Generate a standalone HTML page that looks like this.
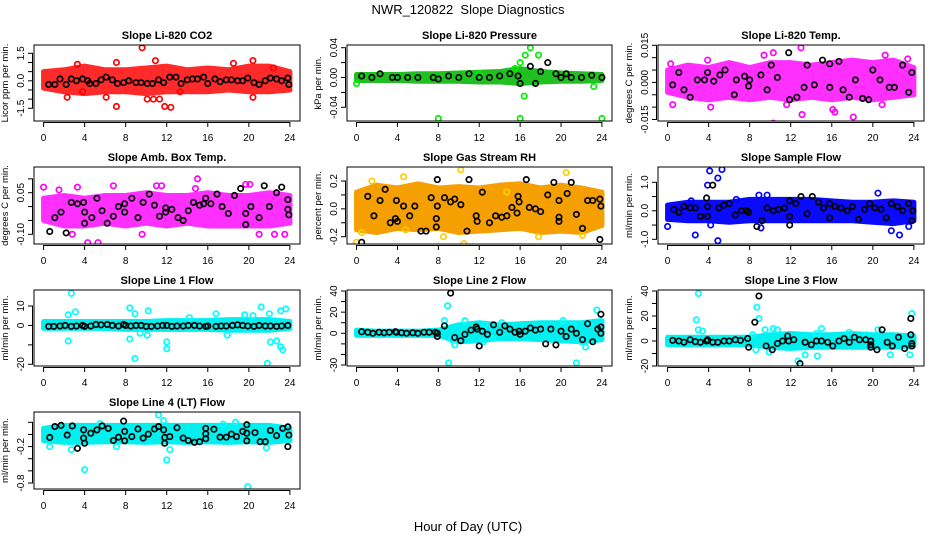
<!DOCTYPE html>
<html><head><meta charset="utf-8">
<style>
html,body{margin:0;padding:0;background:#fff;}
svg{display:block;font-family:"Liberation Sans",Arial,sans-serif;}
</style></head>
<body>
<svg id="chart" width="936" height="540" viewBox="0 0 936 540">
<text x="468" y="14" text-anchor="middle" font-size="13">NWR_120822&#160; Slope Diagnostics</text>
<text x="468" y="531" text-anchor="middle" font-size="13">Hour of Day (UTC)</text>
</svg>
<script>
const bandHours = [0,2,4,6,8,10,12,14,16,18,20,22,24];
const xTicks = [0,4,8,12,16,20,24];

const co2Hi = [0.5,0.6,0.8,0.6,0.6,0.7,0.8,0.6,0.7,0.6,0.8,0.8,0.5];
const co2Lo = [-0.4,-0.6,-0.7,-0.6,-0.6,-0.7,-0.6,-0.6,-0.6,-0.5,-0.6,-0.6,-0.5];
const co2Out = [[9.6,1.8],[7.1,-1.4],[11.8,-1.4],[12.4,-1.45],[10.1,-1.0],[10.7,-1.0],[11.3,-1.0],[2.3,-0.9],[6.1,-0.9],[20.4,-0.9],[10.9,1.1],[20.4,1.1],[7.1,1.0],[3.3,0.9],[18.5,0.95],[22.4,0.7],[3.8,-0.6],[13.3,-0.6]];
const co2Black = [[0.5,-0.2],[1.1,-0.2],[1.6,0.1],[2.2,-0.2],[2.7,0.1],[3.2,0],[3.8,0.1],[4.3,0],[4.5,-0.15],[5.1,-0.15],[5.6,0.05],[6.1,0.2],[6.7,0.05],[7.2,-0.15],[7.8,-0.1],[8.3,0],[9.0,-0.1],[9.5,-0.1],[10.1,-0.15],[10.6,-0.15],[11.2,0.05],[11.7,-0.1],[12.3,0.2],[12.9,0.2],[13.4,-0.15],[14.0,0.05],[14.5,0.1],[15.0,0.1],[15.6,0.2],[16.0,-0.15],[16.7,0.1],[17.2,-0.05],[17.8,0.05],[18.3,0.05],[18.9,0],[19.4,0],[19.9,0.15],[20.5,-0.1],[21.0,-0.2],[21.6,0],[22.1,0.15],[22.7,0.1],[23.2,0],[23.8,0.15],[23.9,-0.2]];

const presHi = [0.004,0.004,0.004,0.005,0.005,0.006,0.007,0.008,0.012,0.008,0.006,0.005,0.004];
const presLo = [-0.004,-0.004,-0.004,-0.005,-0.005,-0.005,-0.006,-0.006,-0.008,-0.006,-0.005,-0.005,-0.004];
const presOut = [[8,-0.055],[16,-0.055],[24,-0.055],[17,0.04],[16.5,0.03],[17.8,0.03],[16,0.02],[15.5,0.012],[16.4,-0.025],[23.2,-0.012],[0,-0.008],[12,0.005]];
const presBlack = [[0.5,0.002],[1.5,0],[2.3,0.005],[3.5,0],[4,0],[5,0],[6,0],[7.5,0],[8,-0.002],[9,0.002],[10,0],[11,0.005],[12,0],[13,0],[14,0.002],[15,0.005],[15.8,0.002],[16,-0.008],[17,0.015],[17.5,-0.008],[18,0.008],[18.7,0.02],[19.5,0.005],[20,0],[20.5,0.005],[21,0],[22,0],[23,0.003],[24,0]];

const tempHi = [0.005,0.007,0.006,0.008,0.006,0.008,0.008,0.007,0.008,0.009,0.008,0.009,0.006];
const tempLo = [-0.004,-0.006,-0.007,-0.006,-0.007,-0.006,-0.007,-0.006,-0.007,-0.006,-0.007,-0.006,-0.005];
const tempOut = [[13,0.014],[10.3,-0.0165],[13.1,-0.013],[18.1,-0.014],[0.5,-0.009],[4.2,-0.01],[16.1,-0.011],[21.2,0.011],[9.4,0.011],[10.3,0.012],[20.9,-0.009],[23.4,0.0095],[11.6,-0.009],[16.3,-0.012],[0.3,0.0075],[3.9,0.009]];
const tempBlack = [[0.5,-0.001],[1.1,0.004],[1.6,-0.003],[2.2,-0.006],[2.9,0.001],[3.6,0.001],[3.9,0.004],[4.5,0.0005],[5.1,0.003],[5.6,0.005],[6.5,-0.005],[6.7,0.001],[7.5,0.0025],[7.9,-0.0015],[8,0.001],[9.1,0.003],[9.7,-0.003],[10.1,0.007],[10.7,0.002],[11.8,0.012],[11.9,-0.007],[12.6,-0.006],[13.3,-0.002],[13.6,0.007],[14.3,-0.001],[15.1,0.009],[15.8,0.0075],[15.8,-0.002],[16.7,0.0085],[17.1,-0.003],[17.7,-0.006],[18.3,0.001],[19,-0.0065],[19.6,-0.007],[20,0.005],[20.7,0.001],[21.6,-0.002],[22.1,-0.002],[22.9,0.007],[23.5,-0.004],[23.8,0.004]];

const ambHi = [0.03,0.04,0.03,0.04,0.04,0.05,0.04,0.04,0.05,0.04,0.04,0.05,0.04];
const ambLo = [-0.05,-0.07,-0.07,-0.06,-0.07,-0.06,-0.07,-0.06,-0.07,-0.07,-0.07,-0.07,-0.06];
const ambOut = [[0,0.07],[3.3,0.07],[6.8,0.075],[11,0.075],[11.5,0.075],[15,0.1],[19.7,0.08],[20.1,0.08],[13.3,-0.15],[5.3,-0.13],[4.3,-0.13],[2.8,-0.1],[23.5,-0.1],[9.6,-0.1],[21,-0.1],[22.5,-0.1],[1.5,0.06],[14.8,0.065]];
const ambBlack = [[0.6,-0.09],[1.1,-0.04],[1.7,-0.02],[2.2,-0.095],[2.7,0.015],[3.3,0.01],[3.9,0.015],[4,-0.02],[4,-0.06],[4.7,-0.04],[5.2,0.03],[5.7,-0.015],[6.2,-0.06],[6.8,-0.035],[7.3,0.0],[7.9,0.01],[7.9,-0.02],[8.6,0.03],[9.2,-0.04],[9.7,0.015],[10.3,0.045],[10.8,0.005],[11.3,-0.035],[11.9,-0.005],[11.9,-0.02],[12.5,-0.01],[13.1,-0.04],[13.6,-0.05],[14.1,-0.015],[14.6,0.015],[15.2,0.005],[15.6,0.01],[15.8,0.03],[16.3,0.01],[16.9,0.045],[17.4,0.0],[18,-0.025],[18.6,0.04],[19.2,0.065],[19.7,-0.025],[19.7,-0.065],[20.2,0.0],[21,-0.04],[21.5,0.075],[22,0.0],[22.7,0.05],[23.2,0.07],[23.8,0.025],[23.8,-0.01],[23.9,-0.03]];

const rhHi = [0.12,0.17,0.15,0.18,0.15,0.16,0.15,0.17,0.18,0.15,0.17,0.15,0.12];
const rhLo = [-0.15,-0.17,-0.14,-0.15,-0.14,-0.17,-0.16,-0.15,-0.14,-0.17,-0.16,-0.17,-0.12];
const rhOut = [[0,-0.24],[0.5,-0.17],[4.6,0.23],[10.2,0.28],[10.5,-0.25],[20.5,0.26],[14.7,0.12],[17.8,-0.2],[22.1,-0.19],[4.8,-0.15],[1.5,0.2],[8.5,-0.2]];
const rhBlack = [[0.5,-0.24],[1.1,0.09],[1.7,-0.05],[2.3,0.06],[2.8,0.14],[3.3,-0.1],[3.8,-0.07],[3.9,0.06],[4,-0.09],[4.6,0.02],[5.2,-0.05],[5.7,0.02],[6.3,-0.16],[6.8,-0.16],[7.3,0.08],[7.8,-0.07],[7.9,0.02],[7.9,0.21],[7.8,-0.13],[8.6,0.08],[9.2,0.05],[9.6,0.07],[10.2,0.03],[10.8,-0.16],[11,0.21],[11.7,-0.05],[11.8,-0.09],[12.3,0.12],[13,-0.1],[13.6,-0.05],[14.2,-0.06],[14.7,-0.05],[15.2,0.01],[15.7,-0.03],[15.8,0.09],[15.9,0.05],[16.6,0.21],[16.9,0.01],[17.5,0.0],[18,-0.02],[18.7,0.1],[19.3,0.19],[19.8,-0.06],[19.8,-0.09],[19.8,0.06],[20.6,0.11],[21,0.19],[21.5,-0.04],[22.1,-0.14],[22.6,0.06],[23.1,0.06],[23.8,0.07],[23.9,0.02],[23.8,-0.22]];

const sfHi = [0.2,0.3,0.3,0.3,0.4,0.4,0.4,0.4,0.35,0.3,0.3,0.35,0.3];
const sfLo = [-0.3,-0.35,-0.35,-0.4,-0.35,-0.35,-0.35,-0.35,-0.35,-0.35,-0.4,-0.45,-0.35];
const sfOut = [[4.1,1.4],[5.3,1.45],[4.9,1.15],[3.9,0.9],[0,-0.55],[2.7,-0.85],[4.9,-1.05],[9.1,-0.6],[20.5,0.62],[21.8,-0.7],[22.6,-0.85],[23.5,-0.55],[8.9,0.55],[9.7,0.55],[6.7,0.4],[2.3,0.35],[4.2,-0.5]];
const sfBlack = [[0.6,0.05],[1.1,-0.05],[1.6,0.15],[2.2,0.1],[2.7,0.1],[3.2,-0.2],[3.8,0.45],[3.9,0.15],[3.9,-0.2],[4.4,0.9],[5.0,0.1],[5.5,0.2],[6.0,0.25],[6.6,-0.15],[7.2,0],[7.7,0],[7.9,-0.05],[8.7,-0.55],[9.2,-0.35],[9.7,0.1],[10.3,0],[10.8,0.05],[11.4,0.1],[11.9,0.35],[11.9,-0.2],[11.9,-0.5],[12.5,0.25],[13,0.5],[13.6,-0.1],[14.1,0.5],[14.7,0.3],[15.2,0.1],[15.8,0.25],[15.8,-0.25],[16.3,0.15],[16.9,0.1],[17.5,0.0],[18,0.15],[18.6,-0.3],[19.2,0.05],[19.7,0.25],[20.2,0.1],[20.8,0.05],[21.3,-0.25],[21.8,0.25],[22.4,0.15],[22.9,0],[23.5,0.25],[23.8,-0.35],[23.9,0]];

const l1Hi = [2,2,2,2,2,2,2.5,2.5,2.5,3,3,3,2];
const l1Lo = [-1.5,-1.5,-1.5,-1.5,-2,-2,-2,-2,-2,-2.5,-2.5,-2.5,-1.5];
const l1Out = [[2.7,16.5],[2.4,5.5],[3.1,7],[2.4,-8],[8.4,9],[8.9,6],[8.4,-7],[8.9,-17],[9.4,-4],[10.1,-5],[10.2,7.5],[12,-8.5],[12,-12],[14.2,4],[17.9,-5],[16.8,6],[21.2,9.5],[21.8,-19.5],[22.1,-8.5],[22.7,-8],[23.1,-11],[23.3,-12.5],[23.1,7.5],[23.6,8.5],[20.4,5],[19.6,5.5],[22,6]];
const l1Black = [[0.5,-0.5],[1,-0.5],[1.6,-0.3],[2.1,0],[2.7,-0.5],[3.2,-0.3],[3.8,0],[4,-0.5],[4.6,-0.3],[5.1,0.5],[5.6,0.3],[6.2,0.5],[6.7,0],[7.3,-0.3],[7.8,0.5],[8.0,0],[8.5,-0.3],[9,0],[9.5,0],[10,-0.5],[10.5,-0.5],[11.1,-0.3],[11.6,0],[12,0],[12.5,-0.5],[13,-0.3],[13.6,-0.3],[14.1,0],[14.7,0],[15.2,-0.3],[15.8,-0.5],[16,-0.3],[16.8,-0.5],[17.3,-0.3],[17.8,-0.3],[18.4,0],[18.9,0.3],[19.4,0],[19.9,-0.3],[20.5,-0.5],[21,0],[21.6,-0.3],[22.1,-0.3],[22.7,-0.5],[23.2,-0.3],[23.8,0]];

const l2Hi = [3,2,2,2,3,8,10,8,9,10,10,10,12];
const l2Lo = [-2,-2,-2,-2,-2,-8,-7,-5,-5,-6,-7,-8,-6];
const l2Out = [[8.9,26],[9,-28],[8.6,12],[9.6,-11],[9.3,-6],[10.6,12],[12.4,-8],[13.3,-5],[12.5,8],[14.2,10],[20.2,12],[21.5,-28],[22.8,8],[23.5,22],[23.9,8],[22.4,-13],[21.2,8],[22,-8]];
const l2Black = [[0.5,1.5],[1.1,1],[1.6,0],[2.2,1],[2.7,0.5],[3.2,1],[3.8,1.5],[3.9,1],[4.4,0.5],[4.9,0],[5.5,0.5],[6,0],[6.6,1],[7.1,1],[7.7,1],[7.9,0],[7.9,-3],[8.6,7],[9.2,38],[9.6,-4],[10.2,-7],[10.6,-1],[11.2,3],[11.7,6],[11.8,4],[12,-12],[12.3,2],[12.8,-1],[13.4,8],[14,1],[14.5,7],[15,4],[15.5,1],[15.9,2],[16,-1],[16.5,2],[17,5],[17.5,3],[18,4],[18.5,-10],[19,4],[19.5,-11],[20,2],[20.5,-3],[21,4],[21.5,0],[22.1,-6],[22.6,9],[23.1,-8],[23.6,4],[23.9,18],[23.9,6],[23.9,0]];

const l3Hi = [3,3,3,3,3,5,6,5,5,6,5,5,4];
const l3Lo = [-3,-3,-3,-3,-3,-5,-6,-5,-5,-5,-5,-5,-4];
const l3Out = [[3.0,38],[2.8,17],[3.0,9],[3.4,8],[8.7,27],[8.9,18],[8.3,5],[8.6,-7],[9.5,9],[10.3,10],[10.7,9],[9.9,-9],[12.7,-16],[13.4,-11],[14.6,-12],[14.5,6],[15,10],[23.8,22],[23.6,-11],[21.7,-11],[20.5,9],[19.4,5],[17.7,7]];
const l3Black = [[0.5,0.5],[1.1,0],[1.6,-1],[2.2,1],[2.7,-0.5],[3.2,-1],[3.8,0],[3.9,1],[4.4,-1],[4.9,-1],[5.5,0],[6,0],[6.6,1],[7.1,0.5],[7.8,2],[7.9,-5],[8.5,15],[8.9,36],[9.6,-4],[10.2,-7],[10.7,-2],[11.2,0],[11.7,4],[11.8,0],[12.3,1],[12.9,-18],[13.4,-1],[14,-3],[14.5,0],[15,0],[15.6,-1],[16.1,-4],[16.7,0],[17.2,2],[17.7,-1],[18.2,3],[18.7,1],[19.3,1],[19.8,0],[19.8,-5],[19.8,-3],[20.4,-7],[20.9,9],[21.4,-1],[21.9,-4],[22.5,3],[23.1,-6],[23.7,18],[23.7,5],[23.8,-4],[23.8,-2]];

const l4Hi = [0.1,0.15,0.15,0.15,0.15,0.15,0.15,0.15,0.15,0.15,0.15,0.15,0.1];
const l4Lo = [-0.1,-0.13,-0.13,-0.12,-0.12,-0.13,-0.12,-0.13,-0.12,-0.13,-0.12,-0.13,-0.1];
const l4Out = [[0.6,-0.2],[4,-0.58],[2.7,-0.25],[11.2,0.32],[11.7,0.23],[12,-0.42],[12.3,-0.25],[19.9,-0.86],[21.7,-0.22],[18.7,0.2],[17.5,0.17],[7.1,-0.2],[5.5,0.18]];
const l4Black = [[0.6,-0.05],[1.1,0.13],[1.7,0.15],[2.3,-0.01],[2.8,0.14],[3.3,-0.23],[3.9,0.075],[3.9,-0.06],[4,-0.145],[4.6,0.02],[5.2,0.075],[5.7,0.14],[6.3,0.1],[6.8,-0.1],[7.3,-0.045],[7.8,0.22],[7.9,0.05],[7.9,-0.105],[8.6,-0.035],[9.2,0.09],[9.7,-0.06],[10.2,0.005],[10.8,0.09],[11.2,0.13],[11.7,0.075],[11.8,-0.05],[11.8,-0.145],[12.3,-0.035],[13,0.11],[13.6,-0.06],[14.1,-0.1],[14.7,-0.13],[15.2,-0.12],[15.8,0.1],[15.8,0.01],[15.8,-0.07],[16.6,0.085],[17.2,-0.045],[17.8,-0.045],[18.3,0.005],[18.8,-0.035],[19.4,0.05],[19.8,0.16],[19.8,0.02],[19.8,-0.105],[20.6,0.03],[21.1,-0.12],[21.6,-0.12],[22.1,0.065],[22.7,-0.02],[23.3,0.1],[23.8,0.125],[23.9,-0.01],[23.8,-0.2]];

const co2Ticks=[-1.5,-1,-0.5,0,0.5,1,1.5], co2Labels=["-1.5","","","0.0","","","1.5"];
const presTicks=[-0.04,-0.02,0,0.02,0.04], presLabels=["-0.04","","0.00","","0.04"];
const tempTicks=[-0.015,-0.01,-0.005,0,0.005,0.01,0.015], tempLabels=["-0.015","","","0.000","","","0.015"];
const ambTicks=[-0.1,-0.05,0,0.05,0.1], ambLabels=["-0.10","","","0.05",""];
const rhTicks=[-0.2,-0.1,0,0.1,0.2], rhLabels=["-0.2","","0.0","","0.2"];
const sfTicks=[-1,-0.5,0,0.5,1], sfLabels=["-1.0","","0.0","","1.0"];
const l1Ticks=[-20,-10,0,10], l1Labels=["-20","","0","10"];
const l2Ticks=[-30,-20,-10,0,10,20,30,40], l2Labels=["-30","","","0","","20","","40"];
const l3Ticks=[-20,-10,0,10,20,30,40], l3Labels=["-20","","0","","20","","40"];
const l4Ticks=[-0.8,-0.6,-0.4,-0.2,0,0.2], l4Labels=["-0.8","","","-0.2","",""];

const NS="http://www.w3.org/2000/svg";
const svg=document.getElementById('chart');
function mk(tag,attrs,parent){const e=document.createElementNS(NS,tag);for(const k in attrs)e.setAttribute(k,attrs[k]);(parent||svg).appendChild(e);return e;}

const panels=[
 {name:'li820-co2',title:'Slope Li-820 CO2',yt:'Licor ppm per min.',box:[34,45,300,121],y1:[1.5,53.3],y2:[-1.5,108.3],hi:co2Hi,lo:co2Lo,out:co2Out,blk:co2Black,ticks:co2Ticks,labels:co2Labels,col:'#ff0000',fill:'#ff2a2a'},
 {name:'li820-pressure',title:'Slope Li-820 Pressure',yt:'kPa per min.',box:[347,45,612,121],y1:[0.04,47.7],y2:[-0.04,107.3],hi:presHi,lo:presLo,out:presOut,blk:presBlack,ticks:presTicks,labels:presLabels,col:'#00ee00',fill:'#20c020'},
 {name:'li820-temp',title:'Slope Li-820 Temp.',yt:'degrees C per min.',box:[658,45,924,121],y1:[0.015,45.3],y2:[-0.015,119.5],hi:tempHi,lo:tempLo,out:tempOut,blk:tempBlack,ticks:tempTicks,labels:tempLabels,col:'#ff00ff',fill:'#ff30ff'},
 {name:'amb-box-temp',title:'Slope Amb. Box Temp.',yt:'degrees C per min.',box:[34,167,300,244],y1:[0.05,192.7],y2:[-0.1,234.3],hi:ambHi,lo:ambLo,out:ambOut,blk:ambBlack,ticks:ambTicks,labels:ambLabels,col:'#ff00ff',fill:'#ff30ff'},
 {name:'gas-stream-rh',title:'Slope Gas Stream RH',yt:'percent per min.',box:[347,167,612,244],y1:[0.2,181],y2:[-0.2,236.7],hi:rhHi,lo:rhLo,out:rhOut,blk:rhBlack,ticks:rhTicks,labels:rhLabels,col:'#ffcc00',fill:'#f5a000'},
 {name:'sample-flow',title:'Slope Sample Flow',yt:'ml/min per min.',box:[658,167,924,244],y1:[1,182.3],y2:[-1,239.3],hi:sfHi,lo:sfLo,out:sfOut,blk:sfBlack,ticks:sfTicks,labels:sfLabels,col:'#0000ff',fill:'#0a0aff'},
 {name:'line1-flow',title:'Slope Line 1 Flow',yt:'ml/min per min.',box:[34,290,300,366],y1:[10,306],y2:[-20,364.3],hi:l1Hi,lo:l1Lo,out:l1Out,blk:l1Black,ticks:l1Ticks,labels:l1Labels,col:'#00ffff',fill:'#00f0f0'},
 {name:'line2-flow',title:'Slope Line 2 Flow',yt:'ml/min per min.',box:[347,290,612,366],y1:[40,291],y2:[0,333.3],hi:l2Hi,lo:l2Lo,out:l2Out,blk:l2Black,ticks:l2Ticks,labels:l2Labels,col:'#00ffff',fill:'#00f0f0'},
 {name:'line3-flow',title:'Slope Line 3 Flow',yt:'ml/min per min.',box:[658,290,924,366],y1:[40,291],y2:[-20,366],hi:l3Hi,lo:l3Lo,out:l3Out,blk:l3Black,ticks:l3Ticks,labels:l3Labels,col:'#00ffff',fill:'#00f0f0'},
 {name:'line4-lt-flow',title:'Slope Line 4 (LT) Flow',yt:'ml/min per min.',box:[34,412,300,489],y1:[0.2,422.3],y2:[-0.8,483],hi:l4Hi,lo:l4Lo,out:l4Out,blk:l4Black,ticks:l4Ticks,labels:l4Labels,col:'#00ffff',fill:'#00f0f0'}
];

panels.forEach(p=>{
 const [L,T,R,B]=p.box;
 const g=mk('g',{});
 
 
 const x0=L+(R-L)*0.036, x1=R-(R-L)*0.038;
 const X=h=>x0+(x1-x0)*h/24;
 const Y=v=>p.y1[1]+(v-p.y1[0])*(p.y2[1]-p.y1[1])/(p.y2[0]-p.y1[0]);
 const clip='clip-'+p.name;
 const cp=mk('clipPath',{id:clip},g); mk('rect',{x:L,y:T,width:R-L,height:B-T},cp);
 const data=mk('g',{'clip-path':'url(#'+clip+')'},g);
 let pts=bandHours.map((h,i)=>X(h)+','+Y(p.hi[i]));
 pts=pts.concat(bandHours.map((h,i)=>[h,i]).reverse().map(([h,i])=>X(h)+','+Y(p.lo[i])));
 const band=mk('polygon',{points:pts.join(' '),fill:p.fill,stroke:p.fill,'stroke-width':5,'stroke-linejoin':'round'},data);
 
 
 p.out.forEach(([h,v])=>{
  const c=mk('circle',{cx:X(h),cy:Y(v),r:2.7,fill:'none',stroke:p.col,'stroke-width':1.7},data);
  
  
 });
 p.blk.forEach(([h,v])=>{
  const c=mk('circle',{cx:X(h),cy:Y(v),r:2.7,fill:'none',stroke:'#000','stroke-width':1.7},data);
  
  
 });
 const box=mk('rect',{x:L,y:T,width:R-L,height:B-T,fill:'none',stroke:'#000','stroke-width':1},g);
 
 
 const t=mk('text',{x:(L+R)/2,y:T-6,'text-anchor':'middle','font-size':11,'font-weight':'bold'},g);
 t.textContent=p.title;
 
 
 const xa=mk('g',{},g);
 
 
 mk('line',{x1:X(0),x2:X(24),y1:B+1.5,y2:B+1.5,stroke:'#000'},xa);
 xTicks.forEach(h=>{
  mk('line',{x1:X(h),x2:X(h),y1:B+1,y2:B+6,stroke:'#000'},xa);
  const tl=mk('text',{x:X(h),y:B+20,'text-anchor':'middle','font-size':10},xa);
  tl.textContent=h;
  
  
 });
 const ya=mk('g',{},g);
 
 
 const tv=p.ticks.map(Y);
 mk('line',{x1:L-1.5,x2:L-1.5,y1:Math.max(...tv),y2:Math.min(...tv),stroke:'#000'},ya);
 p.ticks.forEach((v,i)=>{
  mk('line',{x1:L-6,x2:L-1,y1:Y(v),y2:Y(v),stroke:'#000'},ya);
  if(p.labels[i]){
   const tl=mk('text',{x:L-10,y:Y(v),'text-anchor':'middle','font-size':10,transform:'rotate(-90 '+(L-10)+' '+Y(v)+')'},ya);
   tl.textContent=p.labels[i];
   
   
  }
 });
 const cy=(T+B)/2;
 const yt=mk('text',{x:L-26,y:cy,'text-anchor':'middle','font-size':9.5,transform:'rotate(-90 '+(L-26)+' '+cy+')'},ya);
 yt.textContent=p.yt;
 
 
});
</script>
</body></html>
